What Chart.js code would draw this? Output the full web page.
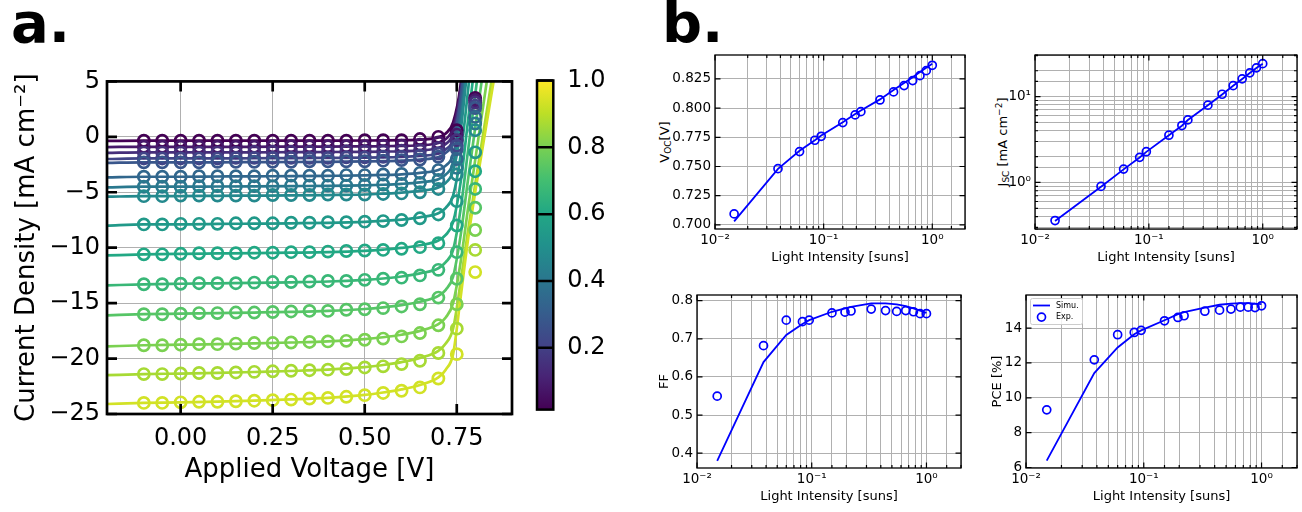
<!DOCTYPE html>
<html>
<head>
<meta charset="utf-8">
<script src="https://cdn.jsdelivr.net/npm/chart.js@4.4.1/dist/chart.umd.min.js"></script>
<style>
  body { margin: 0; width: 1302px; height: 512px; background: #fff; overflow: hidden; position: relative; font-family: 'DejaVu Sans'; }
  canvas { position: absolute; }
  .panel { position: absolute; font-weight: bold; font-size: 56px; line-height: 56px; }
  .vlab { position: absolute; font-size: 13px; white-space: nowrap; transform: translate(-50%, -50%) rotate(-90deg); }
  .vlab sub { font-size: 9px; vertical-align: -2px; }
  .vlab sup { font-size: 9px; vertical-align: 5px; }
</style>
</head>
<body>
<div class="panel" style="left:11px; top:-5px;">a.</div>
<div class="panel" style="left:662px; top:-5px;">b.</div>
<div class="vlab" style="left:665px; top:142px;">V<sub>OC</sub>[V]</div>
<div class="vlab" style="left:1002px; top:142px;">J<sub>SC</sub> [mA cm<sup>−2</sup>]</div>

<canvas id="jv" width="520" height="452" style="left:0; top:60px;"></canvas>
<canvas id="cbar" width="100" height="370" style="left:525px; top:60px;"></canvas>
<canvas id="voc" width="335" height="235" style="left:640px; top:40px;"></canvas>
<canvas id="jsc" width="327" height="235" style="left:975px; top:40px;"></canvas>
<canvas id="ff" width="335" height="232" style="left:640px; top:280px;"></canvas>
<canvas id="pce" width="327" height="232" style="left:975px; top:280px;"></canvas>

<script>
// light intensities [suns] (one J-V curve each)
const intensity = [0.015, 0.038, 0.06, 0.083, 0.095, 0.15, 0.195, 0.22, 0.33, 0.44, 0.55, 0.66, 0.77, 0.88, 1.0];

// measured J-V points
const vExp = [-0.1, -0.05, 0, 0.05, 0.1, 0.15, 0.2, 0.25, 0.3, 0.35, 0.4, 0.45, 0.5, 0.55, 0.6, 0.65, 0.7, 0.75, 0.8];
const jExp = [
  [-0.35, -0.35, -0.35, -0.35, -0.35, -0.35, -0.35, -0.35, -0.35, -0.35, -0.35, -0.35, -0.3, -0.3, -0.3, -0.2, 0.0, 0.6, 3.5],
  [-0.9, -0.9, -0.9, -0.9, -0.9, -0.9, -0.9, -0.85, -0.85, -0.85, -0.85, -0.85, -0.85, -0.8, -0.8, -0.7, -0.5, 0.2, 3.3],
  [-1.4, -1.4, -1.4, -1.4, -1.4, -1.4, -1.35, -1.35, -1.35, -1.35, -1.35, -1.3, -1.3, -1.3, -1.25, -1.2, -1.0, -0.3, 3.1],
  [-1.95, -1.95, -1.95, -1.95, -1.95, -1.9, -1.9, -1.9, -1.9, -1.9, -1.9, -1.85, -1.85, -1.8, -1.8, -1.7, -1.5, -0.8, 2.8],
  [-2.3, -2.3, -2.3, -2.3, -2.25, -2.25, -2.25, -2.25, -2.25, -2.2, -2.2, -2.2, -2.2, -2.15, -2.1, -2.05, -1.8, -1.1, 2.6],
  [-3.6, -3.6, -3.6, -3.55, -3.55, -3.55, -3.55, -3.5, -3.5, -3.5, -3.5, -3.45, -3.45, -3.4, -3.35, -3.25, -3.0, -2.0, 1.8],
  [-4.5, -4.5, -4.5, -4.45, -4.45, -4.45, -4.45, -4.45, -4.4, -4.4, -4.4, -4.4, -4.35, -4.3, -4.25, -4.15, -3.9, -2.8, 1.2],
  [-5.35, -5.35, -5.3, -5.3, -5.3, -5.3, -5.3, -5.25, -5.25, -5.25, -5.2, -5.2, -5.2, -5.15, -5.1, -5.0, -4.7, -3.4, 0.6],
  [-7.9, -7.9, -7.85, -7.85, -7.85, -7.8, -7.8, -7.8, -7.75, -7.75, -7.7, -7.7, -7.65, -7.6, -7.5, -7.35, -7.0, -5.8, -1.4],
  [-10.6, -10.6, -10.55, -10.5, -10.5, -10.5, -10.45, -10.45, -10.4, -10.4, -10.35, -10.3, -10.25, -10.2, -10.1, -9.95, -9.6, -8.0, -3.1],
  [-13.3, -13.3, -13.25, -13.2, -13.2, -13.2, -13.15, -13.1, -13.1, -13.05, -13.0, -13.0, -12.9, -12.8, -12.7, -12.5, -12.0, -10.4, -4.7],
  [-16.0, -16.0, -15.95, -15.9, -15.9, -15.85, -15.85, -15.8, -15.75, -15.7, -15.7, -15.6, -15.55, -15.45, -15.3, -15.1, -14.5, -12.8, -6.4],
  [-18.8, -18.8, -18.75, -18.7, -18.7, -18.65, -18.6, -18.6, -18.55, -18.5, -18.45, -18.4, -18.3, -18.2, -18.0, -17.7, -17.0, -15.1, -8.4],
  [-21.4, -21.4, -21.35, -21.3, -21.3, -21.25, -21.2, -21.15, -21.1, -21.05, -21.0, -20.95, -20.8, -20.7, -20.5, -20.2, -19.5, -17.3, -10.2],
  [-24.0, -24.0, -23.95, -23.9, -23.9, -23.85, -23.8, -23.75, -23.7, -23.6, -23.55, -23.45, -23.3, -23.1, -22.9, -22.6, -21.8, -19.6, -12.2]
];

// simulated J-V curves
const vSim = [-0.2, -0.1, 0, 0.1, 0.2, 0.3, 0.4, 0.5, 0.55, 0.6, 0.65, 0.7, 0.72, 0.74, 0.76, 0.78, 0.8, 0.82, 0.84, 0.86];
const jSim = [
  [-0.36, -0.35, -0.35, -0.35, -0.35, -0.35, -0.34, -0.33, -0.32, -0.3, -0.25, -0.05, 0.3, 1.3, 4.6, 12, 20, 28, 36, 44],
  [-0.92, -0.9, -0.9, -0.9, -0.9, -0.88, -0.88, -0.86, -0.85, -0.82, -0.76, -0.55, -0.2, 0.8, 4.2, 11, 19, 27, 35, 43],
  [-1.45, -1.4, -1.4, -1.4, -1.4, -1.38, -1.37, -1.35, -1.33, -1.3, -1.22, -1.0, -0.65, 0.3, 3.8, 10.5, 18, 26, 34, 42],
  [-2.0, -1.95, -1.95, -1.95, -1.93, -1.92, -1.9, -1.88, -1.86, -1.82, -1.72, -1.5, -1.15, -0.2, 3.4, 10, 17.5, 25, 33, 41],
  [-2.35, -2.3, -2.3, -2.3, -2.28, -2.27, -2.25, -2.22, -2.2, -2.15, -2.05, -1.82, -1.45, -0.5, 3.1, 9.6, 17, 24.5, 32, 40],
  [-3.65, -3.6, -3.6, -3.58, -3.56, -3.55, -3.52, -3.48, -3.44, -3.38, -3.25, -3.0, -2.6, -1.6, 2.0, 8.4, 15.6, 23, 30, 38],
  [-4.55, -4.5, -4.5, -4.48, -4.46, -4.44, -4.42, -4.37, -4.32, -4.24, -4.1, -3.82, -3.4, -2.4, 1.2, 7.4, 14.5, 21.6, 29, 36],
  [-5.4, -5.35, -5.35, -5.32, -5.3, -5.28, -5.25, -5.2, -5.13, -5.04, -4.88, -4.58, -4.15, -3.1, 0.4, 6.6, 13.5, 20.5, 27.5, 35],
  [-8.0, -7.9, -7.9, -7.86, -7.83, -7.8, -7.76, -7.67, -7.58, -7.46, -7.26, -6.9, -6.4, -5.3, -1.8, 4.0, 10.2, 16.4, 22.6, 29],
  [-10.7, -10.6, -10.55, -10.52, -10.49, -10.45, -10.4, -10.28, -10.17, -10.02, -9.78, -9.35, -8.85, -7.7, -4.2, 1.3, 6.9, 12.5, 18, 23.6],
  [-13.4, -13.3, -13.25, -13.21, -13.17, -13.12, -13.05, -12.9, -12.78, -12.6, -12.32, -11.85, -11.3, -10.2, -6.6, -1.4, 3.8, 9.0, 14.2, 19.4],
  [-16.1, -16.0, -15.95, -15.9, -15.85, -15.79, -15.7, -15.53, -15.38, -15.18, -14.88, -14.35, -13.8, -12.6, -9.0, -4.0, 0.8, 5.6, 10.4, 15.2],
  [-18.9, -18.8, -18.75, -18.7, -18.63, -18.55, -18.45, -18.25, -18.08, -17.85, -17.5, -16.9, -16.3, -15.0, -11.4, -6.6, -2.1, 2.4, 6.9, 11.4],
  [-21.5, -21.4, -21.35, -21.29, -21.21, -21.12, -21.0, -20.78, -20.58, -20.32, -19.94, -19.3, -18.65, -17.3, -13.2, -8.6, -4.3, -0.1, 4.1, 8.3],
  [-24.1, -24.0, -23.95, -23.88, -23.79, -23.68, -23.54, -23.28, -23.06, -22.78, -22.38, -21.7, -21.0, -19.6, -14.6, -9.4, -5.0, -1.0, 3.0, 7.0]
];

// colorbar
const cbarMin = 0.015, cbarMax = 1.0;
const cbarTicks = [0.2, 0.4, 0.6, 0.8, 1.0];

// panel b: figures of merit vs light intensity
const vocExp = [0.7094, 0.7482, 0.7628, 0.7725, 0.7759, 0.7876, 0.7942, 0.797, 0.807, 0.8139, 0.8193, 0.8236, 0.8278, 0.8321, 0.8367];
const vocSim = [0.703, 0.748, 0.7635, 0.7725, 0.7765, 0.788, 0.795, 0.798, 0.8075, 0.8155, 0.8215, 0.8265, 0.831, 0.8345, 0.838];
const jscExp = [0.36, 0.9, 1.43, 1.96, 2.28, 3.55, 4.6, 5.35, 7.95, 10.65, 13.4, 16.1, 18.9, 21.6, 24.2];
const jscSim = [0.355, 0.89, 1.42, 1.95, 2.27, 3.54, 4.58, 5.33, 7.93, 10.6, 13.35, 16.05, 18.8, 21.5, 24.1];
const ffExp = [0.5495, 0.682, 0.749, 0.745, 0.749, 0.768, 0.770, 0.773, 0.778, 0.774, 0.772, 0.774, 0.771, 0.766, 0.766];
const ffSim = [0.38, 0.639, 0.710, 0.739, 0.749, 0.771, 0.780, 0.784, 0.793, 0.793, 0.7905, 0.786, 0.780, 0.774, 0.768];
const pceExp = [9.31, 12.18, 13.62, 13.75, 13.87, 14.42, 14.61, 14.71, 14.97, 15.03, 15.09, 15.2, 15.2, 15.18, 15.28];
const pceSim = [6.39, 11.42, 12.89, 13.65, 13.87, 14.45, 14.8, 14.92, 15.18, 15.34, 15.41, 15.43, 15.43, 15.4, 15.38];

Chart.defaults.font.family = 'DejaVu Sans';
Chart.defaults.color = '#000';
Chart.defaults.animation = false;
Chart.defaults.events = [];
Chart.defaults.plugins.legend.display = false;
Chart.defaults.plugins.tooltip.enabled = false;

const viridisStops = ['#440154', '#482475', '#414487', '#355f8d', '#2a788e', '#21918c', '#22a884', '#44bf70', '#7ad151', '#bddf26', '#fde725'];
function hexRgb(h) {
  return [parseInt(h.slice(1, 3), 16), parseInt(h.slice(3, 5), 16), parseInt(h.slice(5, 7), 16)];
}
function viridis(t) {
  t = Math.min(1, Math.max(0, t));
  const f = t * 10, i = Math.min(9, Math.floor(f)), r = f - i;
  const a = hexRgb(viridisStops[i]), b = hexRgb(viridisStops[i + 1]);
  return 'rgb(' + a.map((c, k) => Math.round(c + (b[k] - c) * r)).join(',') + ')';
}

function isPow10(v) {
  const e = Math.log10(v);
  return Math.abs(e - Math.round(e)) < 1e-6;
}
const supDigits = { '-': '\u207B', '0': '\u2070', '1': '\u00B9', '2': '\u00B2', '3': '\u00B3' };
function logLabel(v) {
  if (!isPow10(v)) return '';
  return '10' + String(Math.round(Math.log10(v))).split('').map(c => supDigits[c]).join('');
}

// frame on all four sides + ticks pointing inwards (matplotlib style)
const frameTicks = {
  id: 'frameTicks',
  afterDraw(chart, args, o) {
    const { ctx, chartArea: a } = chart;
    ctx.save();
    ctx.strokeStyle = '#000';
    ctx.lineWidth = o.tickWidth;
    for (const id of ['x', 'y']) {
      const sc = chart.scales[id];
      if (!sc || sc.options.display === false) continue;
      for (const t of sc.ticks) {
        const p = sc.getPixelForValue(t.value);
        const len = (sc.type !== 'logarithmic' || isPow10(t.value)) ? o.major : o.minor;
        ctx.beginPath();
        if (sc.isHorizontal()) {
          ctx.moveTo(p, a.bottom); ctx.lineTo(p, a.bottom - len);
          ctx.moveTo(p, a.top); ctx.lineTo(p, a.top + len);
        } else {
          ctx.moveTo(a.left, p); ctx.lineTo(a.left + len, p);
          ctx.moveTo(a.right, p); ctx.lineTo(a.right - len, p);
        }
        ctx.stroke();
      }
    }
    ctx.lineWidth = o.frame;
    ctx.strokeRect(a.left, a.top, a.right - a.left, a.bottom - a.top);
    ctx.restore();
  }
};

// small legend box in the upper left of the plot area
const boxLegend = {
  id: 'boxLegend',
  afterDraw(chart, args, o) {
    if (!o.show) return;
    const { ctx, chartArea: a } = chart;
    const x0 = a.left + 4, y0 = a.top + 3, w = 52, h = 26;
    ctx.save();
    ctx.fillStyle = 'rgba(255,255,255,0.85)';
    ctx.strokeStyle = '#cccccc';
    ctx.lineWidth = 1;
    ctx.beginPath();
    ctx.roundRect(x0 + 0.5, y0 + 0.5, w, h, 2);
    ctx.fill(); ctx.stroke();
    ctx.font = '8px "DejaVu Sans"';
    ctx.textBaseline = 'middle';
    chart.data.datasets.forEach((ds, i) => {
      const y = y0 + 7.5 + i * 11.6;
      ctx.strokeStyle = ds.borderColor;
      if (ds.showLine === false) {
        ctx.lineWidth = ds.pointBorderWidth;
        ctx.beginPath();
        ctx.arc(x0 + 11.5, y, ds.pointRadius, 0, Math.PI * 2);
        ctx.stroke();
      } else {
        ctx.lineWidth = ds.borderWidth;
        ctx.beginPath();
        ctx.moveTo(x0 + 3, y); ctx.lineTo(x0 + 20, y);
        ctx.stroke();
      }
      ctx.fillStyle = '#000';
      ctx.fillText(ds.label, x0 + 26, y);
    });
    ctx.restore();
  }
};

// ---------- panel a: J-V curves ----------
// curves are coloured by their rank along the colormap
const jvSets = [];
intensity.forEach((I, k) => {
  const col = viridis(k / intensity.length);
  jvSets.push({
    data: vSim.map((v, i) => ({ x: v, y: jSim[k][i] })),
    borderColor: col, borderWidth: 2.7, pointRadius: 0,
    cubicInterpolationMode: 'monotone', order: 200 - k
  });
  jvSets.push({
    data: vExp.map((v, i) => ({ x: v, y: jExp[k][i] })),
    showLine: false, pointRadius: 5.6, pointBorderWidth: 2.7,
    pointBorderColor: col, pointBackgroundColor: 'rgba(0,0,0,0)', order: 100 - k
  });
});

new Chart(document.getElementById('jv'), {
  type: 'line',
  data: { datasets: jvSets },
  options: {
    responsive: false,
    layout: { padding: { left: 0, top: 19, right: 8, bottom: 0 }, autoPadding: false },
    scales: {
      x: {
        type: 'linear', min: -0.2, max: 0.9,
        afterFit: s => { s.height = 98; },
        grid: { color: '#b0b0b0', lineWidth: 1, drawTicks: false },
        border: { display: false },
        ticks: { stepSize: 0.25, includeBounds: false, padding: 10, font: { size: 24 }, maxRotation: 0, callback: v => v.toFixed(2) },
        title: { display: true, text: 'Applied Voltage [V]', font: { size: 26, lineHeight: 1 }, padding: { top: 0, bottom: 29 } }
      },
      y: {
        min: -25, max: 5,
        afterFit: s => { s.width = 107; },
        grid: { color: '#b0b0b0', lineWidth: 1, drawTicks: false },
        border: { display: false },
        ticks: { stepSize: 5, padding: 7, font: { size: 24 }, callback: v => (v < 0 ? '\u2212' : '') + Math.abs(v) },
        title: { display: true, text: 'Current Density [mA cm\u207B\u00B2]', font: { size: 26, lineHeight: 1 }, padding: { top: 14, bottom: 0 } }
      }
    },
    plugins: { frameTicks: { frame: 2.7, tickWidth: 2.7, major: 10, minor: 0 } }
  },
  plugins: [frameTicks]
});

// ---------- colorbar ----------
new Chart(document.getElementById('cbar'), {
  type: 'bar',
  data: {
    labels: [''],
    datasets: [{
      data: [[cbarMin, cbarMax]],
      barPercentage: 1, categoryPercentage: 1, borderWidth: 0,
      backgroundColor: c => {
        const a = c.chart.chartArea;
        if (!a) return '#21918c';
        const g = c.chart.ctx.createLinearGradient(0, a.bottom, 0, a.top);
        viridisStops.forEach((s, i) => g.addColorStop(i / 10, s));
        return g;
      }
    }]
  },
  options: {
    responsive: false,
    layout: { padding: { left: 12, top: 20.5, right: 0, bottom: 16.7 }, autoPadding: false },
    scales: {
      x: { display: false },
      y: {
        position: 'right', min: cbarMin, max: cbarMax,
        afterFit: s => { s.width = 71.7; },
        afterBuildTicks: s => { s.ticks = cbarTicks.map(v => ({ value: v })); },
        grid: { display: false },
        border: { display: false },
        ticks: { padding: 6, font: { size: 24 }, callback: v => v.toFixed(1) }
      }
    },
    plugins: { frameTicks: { frame: 2.5, tickWidth: 2.5, major: 9, minor: 0 } }
  },
  plugins: [frameTicks]
});

// ---------- panel b ----------
const blue = '#0000ff';
function fomChart(id, sim, exp, opt) {
  return new Chart(document.getElementById(id), {
    type: 'line',
    data: {
      datasets: [
        { label: 'Simu.', data: intensity.map((I, i) => ({ x: I, y: sim[i] })), borderColor: blue, borderWidth: 1.8, pointRadius: 0, order: 2 },
        { label: 'Exp.', data: intensity.map((I, i) => ({ x: I, y: exp[i] })), showLine: false, borderColor: blue,
          pointRadius: 4, pointBorderWidth: 1.7, pointBorderColor: blue, pointBackgroundColor: 'rgba(0,0,0,0)', order: 1 }
      ]
    },
    options: {
      responsive: false,
      layout: { padding: { left: 0, top: 15, right: opt.padRight, bottom: 0 }, autoPadding: false },
      scales: {
        x: {
          type: 'logarithmic', min: 0.01, max: 2,
          afterFit: s => { s.height = opt.xHeight; },
          grid: { color: '#b0b0b0', lineWidth: 1, drawTicks: false },
          border: { display: false },
          ticks: { autoSkip: false, maxRotation: 0, padding: 3, font: { size: 13.5 }, callback: logLabel },
          title: { display: true, text: 'Light Intensity [suns]', font: { size: 13, lineHeight: 1 }, padding: { top: 0, bottom: opt.xTitlePad } }
        },
        y: Object.assign({
          afterFit: s => { s.width = opt.yWidth; },
          grid: { color: '#b0b0b0', lineWidth: 1, drawTicks: false },
          border: { display: false }
        }, opt.y)
      },
      plugins: {
        frameTicks: { frame: 1.3, tickWidth: 1.2, major: 5.5, minor: 3 },
        boxLegend: { show: !!opt.legend }
      }
    },
    plugins: [frameTicks, boxLegend]
  });
}

fomChart('voc', vocSim, vocExp, {
  padRight: 10, xHeight: 46, yWidth: 75, xTitlePad: 11,
  y: { min: 0.6965, max: 0.8455, ticks: { stepSize: 0.025, includeBounds: false, padding: 4, font: { size: 13.5 }, callback: v => v.toFixed(3) } }
});

fomChart('jsc', jscSim, jscExp, {
  padRight: 5, xHeight: 46, yWidth: 60, xTitlePad: 11,
  y: { type: 'logarithmic', min: 0.287, max: 30.5, ticks: { autoSkip: false, padding: 4, font: { size: 13.5 }, callback: logLabel } }
});

fomChart('ff', ffSim, ffExp, {
  padRight: 14, xHeight: 44, yWidth: 57, xTitlePad: 9,
  y: {
    min: 0.361, max: 0.815,
    ticks: { stepSize: 0.1, includeBounds: false, padding: 4, font: { size: 13.5 }, callback: v => v.toFixed(1) },
    title: { display: true, text: 'FF', font: { size: 13, lineHeight: 1 }, padding: { top: 18.5, bottom: 0 } }
  }
});

fomChart('pce', pceSim, pceExp, {
  padRight: 5, xHeight: 44, yWidth: 51, xTitlePad: 9, legend: true,
  y: {
    min: 5.97, max: 15.9,
    ticks: { stepSize: 2, includeBounds: false, padding: 4, font: { size: 13.5 }, callback: v => String(v) },
    title: { display: true, text: 'PCE [%]', font: { size: 13, lineHeight: 1 }, padding: { top: 15.8, bottom: 0 } }
  }
});
</script>
</body>
</html>
